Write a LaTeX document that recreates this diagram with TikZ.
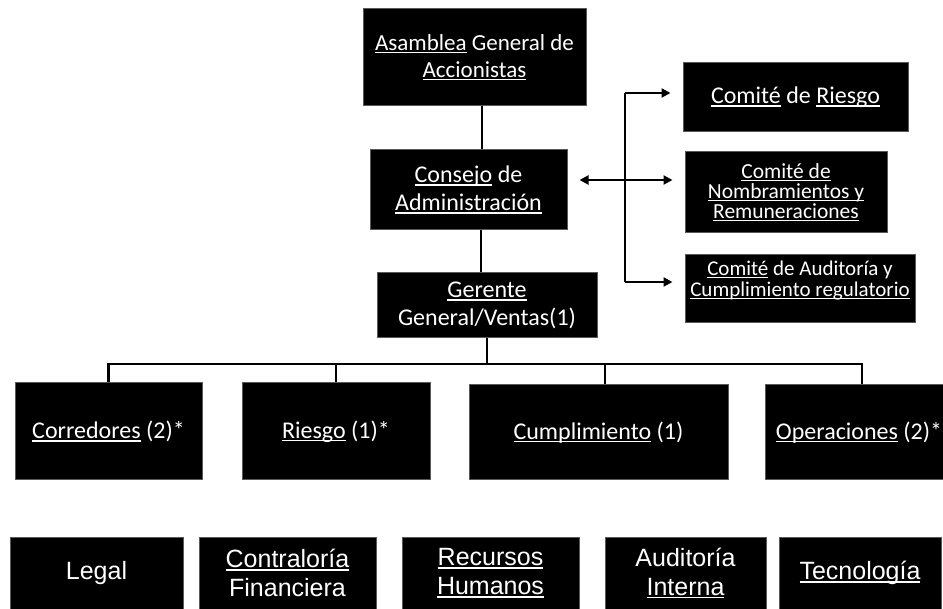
\documentclass[tikz,border=0pt]{standalone}
\usepackage{fontspec}
\setmainfont{Carlito}
\newfontfamily\arialf{Liberation Sans}
\usetikzlibrary{arrows.meta}
\newcommand\ulx[1]{\mbox{\setbox0\hbox{#1}\rlap{\rule[-0.13em]{\wd0}{0.06em}}\box0}}
\tikzset{
  orgbox/.style={rectangle, fill=black, draw=black!65, line width=1pt, text=white, align=center, inner sep=0pt},
  topfont/.style={font=\fontsize{23}{27}\selectfont},
  midfont/.style={font=\fontsize{24}{28}\selectfont},
  lowfont/.style={font=\arialf\fontsize{25}{29}\selectfont},
  conn/.style={line width=2.2pt, black},
  bus/.style={line width=2.8pt, black},
  arr/.style={line width=2.2pt, black, -{Triangle[length=9pt,width=9pt]}},
  darr/.style={line width=2.2pt, black, {Triangle[length=9pt,width=9pt]}-{Triangle[length=9pt,width=9pt]}}
}
\begin{document}
\begin{tikzpicture}[x=1pt,y=-1pt]
\fill[white] (0,0) rectangle (943,609);
\useasboundingbox (0,0) rectangle (943,609);

% top hierarchy
\node[orgbox, topfont, minimum width=223, minimum height=97] (asam) at (474.5,57.5)
  {\ulx{Asamblea} General de\\\ulx{Accionistas}};
\node[orgbox, midfont, minimum width=197, minimum height=80] (cons) at (468.5,190)
  {\ulx{Consejo} de\\\ulx{Administración}};
\node[orgbox, midfont, minimum width=220, minimum height=65] (ger) at (487,305.5)
  {\ulx{Gerente}\\General/Ventas(1)};

% committees
\node[orgbox, midfont, minimum width=225, minimum height=69] (cr) at (795.5,97.5)
  {\ulx{Comité} de \ulx{Riesgo}};
\node[orgbox, font=\fontsize{21.5}{20}\selectfont, minimum width=202, minimum height=81] (cn) at (786,192.5)
  {\ulx{Comité de}\\\ulx{Nombramientos y}\\\ulx{Remuneraciones}};
\node[orgbox, font=\fontsize{21}{21}\selectfont, minimum width=230, minimum height=68] (ca) at (800,289)
  {\ulx{Comité} de Auditoría y\\\ulx{Cumplimiento regulatorio}\\\mbox{}};

% second row
\node[orgbox, midfont, minimum width=187, minimum height=97] (corr) at (108.5,431.5)
  {\ulx{Corredores} (2)*};
\node[orgbox, midfont, minimum width=188, minimum height=97] (rie) at (336,431.5)
  {\ulx{Riesgo} (1)*};
\node[orgbox, midfont, minimum width=259, minimum height=95] (cum) at (598.5,432.5)
  {\ulx{Cumplimiento} (1)};
\node[orgbox, midfont, minimum width=188, minimum height=95] (ope) at (859,432.5)
  {\ulx{Operaciones} (2)*};

% bottom row
\node[orgbox, lowfont, minimum width=173, minimum height=72] (legal) at (96.5,573) {Legal};
\node[orgbox, lowfont, minimum width=177, minimum height=72] (contr) at (287.5,573)
  {\ulx{Contraloría}\\Financiera};
\node[orgbox, lowfont, minimum width=177, minimum height=72] (rrhh) at (490.5,573)
  {\ulx{Recursos}\\\ulx{Humanos}};
\node[orgbox, lowfont, minimum width=161, minimum height=72] (audi) at (685.5,573)
  {Auditoría\\\ulx{Interna}};
\node[orgbox, lowfont, minimum width=162, minimum height=72] (tec) at (860,573)
  {\ulx{Tecnología}};

% coordinates
\coordinate (v1) at (482,0);
\coordinate (v2) at (481,0);
\coordinate (gb) at (487,364);
\coordinate (cumx) at (605,0);
\coordinate (opex) at (862,0);
\coordinate (jtop) at (625,93);
\coordinate (jmid) at (625,180);
\coordinate (jbot) at (625,282);

% vertical connectors
\draw[conn] (v1 |- asam.south) -- (v1 |- cons.north);
\draw[conn] (v2 |- cons.south) -- (v2 |- ger.north);
\draw[conn] (gb |- ger.south) -- (gb);

% bus
\draw[bus] (corr.north) -- (corr.north |- gb) -- (opex |- gb) -- (opex |- ope.north);
\draw[bus] (rie.north |- gb) -- (rie.north);
\draw[bus] (cumx |- gb) -- (cumx |- cum.north);

% committee bracket
\draw[conn] (jtop) -- (jbot);
\draw[arr, shorten >=12pt] (jtop) -- (jtop -| cr.west);
\draw[arr, shorten >=12pt] (jbot) -- (jbot -| ca.west);
\draw[darr, shorten <=12pt, shorten >=12pt] (cons.east |- jmid) -- (cn.west |- jmid);
\end{tikzpicture}
\end{document}
